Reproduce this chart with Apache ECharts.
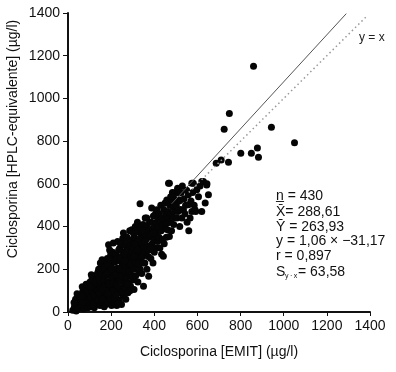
<!DOCTYPE html>
<html>
<head>
<meta charset="utf-8">
<script src="https://cdn.jsdelivr.net/npm/echarts@6/dist/echarts.min.js"></script>
<style>
  html, body { margin: 0; padding: 0; background: #fff; }
  #chart { width: 396px; height: 372px; }
</style>
</head>
<body>
<div id="chart"></div>
<script>
// EMIT (x) vs HPLC-equivalente (y)
var cloud = [
  [22,8],[30,25],[38,5],[45,40],[35,60],[50,18],[55,70],[42,85],[58,48],[28,45],
  [62,30],[68,95],[72,15],[75,60],[80,110],[85,40],[88,75],[92,20],[95,125],[98,55],
  [66,118],[78,82],[90,100],[70,45],[84,130],[96,88],[100,30],[64,72],
  [102,140],[105,65],[108,25],[110,100],[112,160],[115,45],[118,85],[120,130],[122,20],[125,170],
  [128,60],[130,110],[132,150],[134,35],[136,90],[138,185],[105,120],[115,150],[125,75],[135,130],
  [108,175],[118,30],[128,140],[140,55],[140,100],
  [142,200],[145,160],[148,30],[150,120],[152,75],[155,180],[158,45],[160,140],[162,215],[165,95],
  [168,25],[170,165],[172,60],[175,230],[178,120],[180,190],[145,90],[150,230],[155,110],[160,60],
  [165,200],[170,130],[175,35],[178,85],[148,145],[158,245],[168,150],[172,210],[162,105],[176,175],
  [182,250],[184,40],[186,140],[188,315],[190,95],[192,210],[194,60],[196,170],[198,270],[200,120],
  [202,30],[204,230],[206,185],[208,80],[210,323],[212,150],[214,255],[216,45],[218,200],[220,110],
  [183,180],[187,220],[191,130],[195,245],[199,75],[203,160],[207,280],[211,100],[215,175],[219,235],
  [185,85],[193,290],[201,200],[209,135],[217,65],
  [222,270],[224,130],[226,30],[228,205],[230,330],[232,90],[234,240],[236,160],[238,55],[240,300],
  [242,190],[244,110],[246,260],[248,35],[250,215],[252,145],[254,345],[256,75],[258,280],[260,180],
  [223,175],[227,250],[231,120],[235,290],[239,200],[243,150],[247,320],[251,95],[255,235],[259,130],
  [225,80],[233,40],[241,250],[249,170],[257,370],
  [262,220],[264,110],[266,310],[268,60],[270,255],[272,160],[274,350],[276,200],[278,90],[280,290],
  [282,135],[284,240],[286,380],[288,180],[290,120],[292,320],[294,260],[296,385],[298,210],[300,150],
  [263,270],[267,190],[271,330],[275,130],[279,230],[283,300],[287,100],[291,270],[295,170],[299,340],
  [265,240],[273,285],[281,190],[289,225],[297,280],
  [302,300],[304,200],[306,105],[308,350],[310,245],[312,400],[314,170],[316,280],[318,330],[320,220],
  [322,420],[324,140],[326,260],[328,375],[330,190],[332,310],[334,507],[336,240],[338,350],[340,280],
  [305,260],[311,320],[317,230],[323,290],[329,340],[335,200],[303,370],[315,380],[327,225],[339,400],
  [342,180],[344,320],[346,260],[348,410],[350,120],[352,300],[354,360],[356,230],[358,440],[360,280],
  [362,340],[364,400],[366,200],[368,310],[370,380],[372,260],[374,167],[376,350],[378,420],[380,300],
  [345,380],[355,330],[365,440],[375,290],[347,230],
  [382,360],[384,250],[386,420],[388,487],[390,320],[392,390],[394,230],[396,450],[398,340],[400,280],
  [402,400],[404,360],[406,460],[408,300],[410,420],[412,479],[414,380],[416,330],[418,440],[420,400],
  [385,300],[395,370],
  [422,350],[424,460],[426,300],[428,420],[430,500],[432,380],[434,270],[436,440],[438,409],[440,340],
  [442,261],[444,480],[446,320],[448,430],[450,510],[452,390],[454,460],[456,350],[458,525],[460,417],
  [462,385],[464,470],[466,603],[468,440],[470,354],[472,500],[474,420],[476,540],[478,460],[480,380],
  [482,520],[484,560],[486,440],[488,490],[490,410],[492,530],[495,470],[498,560],[470,603],[481,541],
  [502,500],[505,440],[508,580],[510,470],[512,557],[515,520],[518,400],[520,525],[522,480],[525,560],
  [528,440],[530,590],[535,479],[538,530],[542,460],[545,500],[550,570],[552,420],[558,549],[558,502],
  [566,440],[570,520],[574,471],[578,560],[581,603],[585,500],[589,479],[592,470],[597,572],[605,540],
  [612,590],[620,471],[620,611],[636,510],[643,595],[651,549],[574,603],[628,611],[644,600],[560,380]
];
var outliers = [
  [687,697],[710,712],[744,701],[724,856],[748,930],[801,743],[850,743],
  [878,768],[883,725],[943,865],[1050,793],[860,1151]
];
var fitLine = [[480,506],[1290,1397]];
var identityLine = [[560,560],[1380,1380]];
var statLines = ['n\u0332 = 430', 'X\u0304= 288,61', '\u0232 = 263,93', 'y = 1,06 \u00d7 \u221231,17', 'r = 0,897'];
var statTail = ['S', 'y\u2009\u00b7\u2009x', '= 63,58'];

var FONT = 'Liberation Sans, Arial, Helvetica, sans-serif';
var myChart = echarts.init(document.getElementById('chart'));

var graphics = [
  {
    type: 'text', x: 13, y: 139, rotation: Math.PI / 2,
    style: { text: 'Ciclosporina [HPLC-equivalente] (\u00b5g/l)', font: '14px ' + FONT, fill: '#111', align: 'center', verticalAlign: 'middle' }
  },
  {
    type: 'text', x: 359, y: 38,
    style: { text: 'y = x', font: '12px ' + FONT, fill: '#222', align: 'left', verticalAlign: 'middle' }
  }
];
var statY = [196, 212, 227, 241.5, 256];
statLines.forEach(function (t, i) {
  graphics.push({
    type: 'text', x: 276, y: statY[i],
    style: { text: t, font: '14px ' + FONT, fill: '#111', align: 'left', verticalAlign: 'middle' }
  });
});
graphics.push({ type: 'text', x: 276, y: 272, style: { text: statTail[0], font: '14px ' + FONT, fill: '#111', verticalAlign: 'middle' } });
graphics.push({ type: 'text', x: 285, y: 276, style: { text: statTail[1], font: '7px ' + FONT, fill: '#111', verticalAlign: 'middle' } });
graphics.push({ type: 'text', x: 298, y: 272, style: { text: statTail[2], font: '14px ' + FONT, fill: '#111', verticalAlign: 'middle' } });

function plain(v) { return String(v); }

var option = {
  animation: false,
  backgroundColor: '#fff',
  grid: { left: 68, right: 26, top: 13, bottom: 60 },
  xAxis: {
    type: 'value',
    min: 0, max: 1400, interval: 200,
    name: 'Ciclosporina [EMIT] (\u00b5g/l)',
    nameLocation: 'middle',
    nameGap: 33,
    nameTextStyle: { fontFamily: FONT, fontSize: 14, color: '#111' },
    axisLine: { show: true, lineStyle: { color: '#111', width: 2 } },
    axisTick: { show: true, length: 4, lineStyle: { color: '#111' } },
    axisLabel: { fontFamily: FONT, fontSize: 14, color: '#111', margin: 7, formatter: plain },
    splitLine: { show: false }
  },
  yAxis: {
    type: 'value',
    min: 0, max: 1400, interval: 200,
    axisLine: { show: true, lineStyle: { color: '#111', width: 2 } },
    axisTick: { show: true, length: 5, lineStyle: { color: '#111' } },
    axisLabel: { fontFamily: FONT, fontSize: 14, color: '#111', margin: 8, formatter: plain },
    splitLine: { show: false }
  },
  graphic: graphics,
  series: [
    {
      type: 'line', data: identityLine, showSymbol: false, silent: true,
      lineStyle: { color: '#999', width: 1.5, type: [1.5, 3] }
    },
    {
      type: 'line', data: fitLine, showSymbol: false, silent: true,
      lineStyle: { color: '#555', width: 1 }
    },
    {
      type: 'scatter', data: cloud.concat(outliers), symbolSize: 7,
      itemStyle: { color: '#050505', opacity: 1 }
    }
  ]
};
myChart.setOption(option);
</script>
</body>
</html>
